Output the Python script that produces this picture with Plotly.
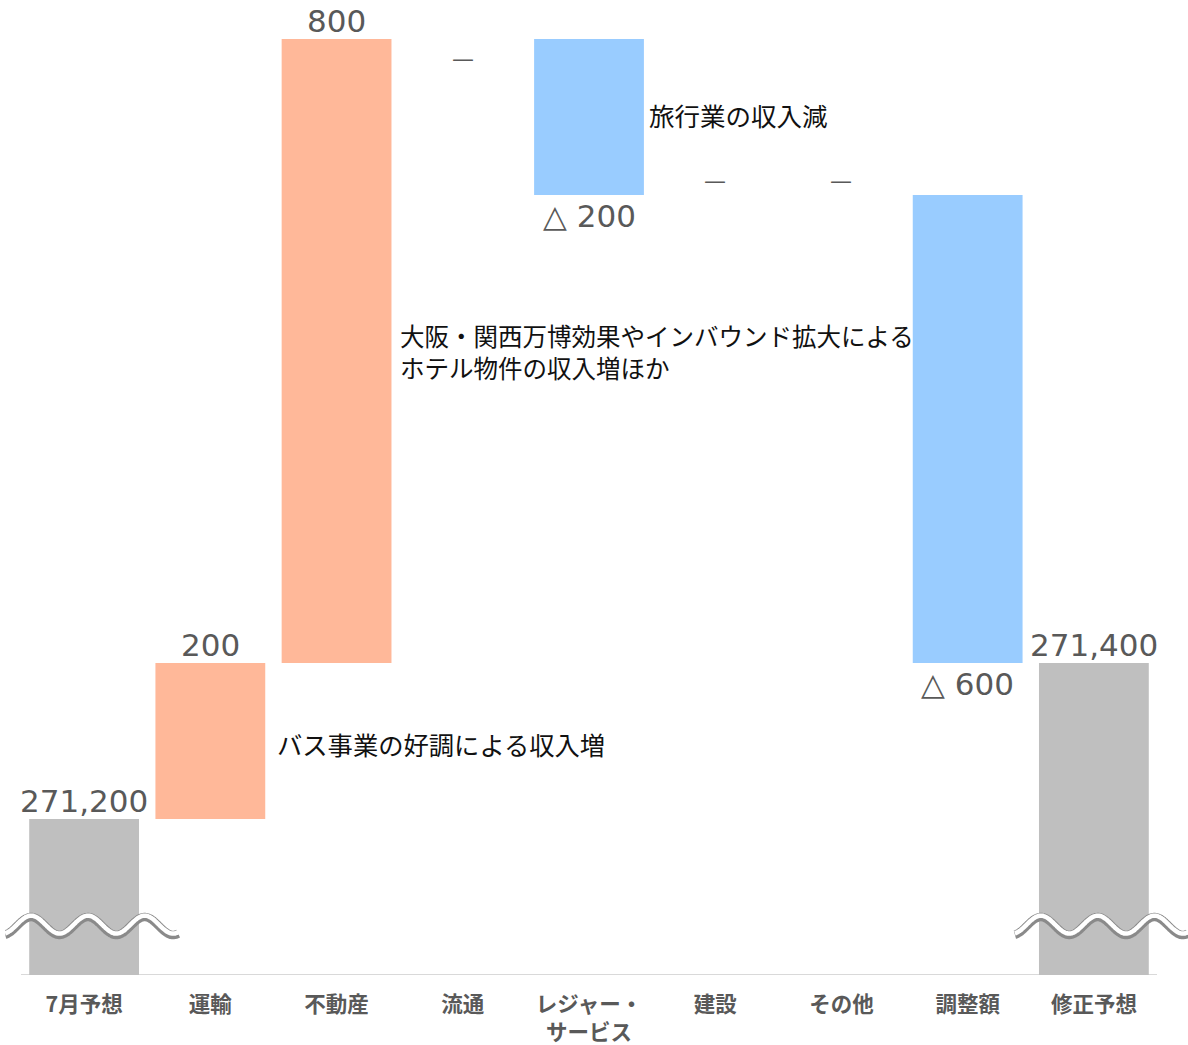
import numpy as np
import plotly.graph_objects as go

# ---- data ----
categories = ["7月予想", "運輸", "不動産", "流通", "レジャー・<br>サービス", "建設", "その他", "調整額", "修正予想"]
start_value = 271200
deltas = [200, 800, 0, -200, 0, 0, -600]
end_value = 271400
notes = {1: "バス事業の好調による収入増",
         2: "大阪・関西万博効果やインバウンド拡大による<br>ホテル物件の収入増ほか",
         4: "旅行業の収入減"}
note_style = {1: dict(size=25.3, xshift=2, yshift=-3),
              2: dict(size=24.5, xshift=-2, yshift=0),
              4: dict(size=25.5, xshift=-5, yshift=3)}

axis_floor = 271000  # broken-axis base
GRAY, UP, DOWN = "#BFBFBF", "#FFB899", "#99CCFF"
LABEL_C = "#595959"
JP = "Noto Sans CJK JP"

# ---- compute waterfall geometry ----
bases, heights, colors, labels, kinds = [], [], [], [], []
bases.append(axis_floor); heights.append(start_value - axis_floor); colors.append(GRAY)
labels.append(f"{start_value:,}"); kinds.append("total")
level = start_value
for d in deltas:
    if d >= 0:
        bases.append(level); heights.append(d); colors.append(UP)
        labels.append(f"{d:,}" if d > 0 else "—"); kinds.append("up" if d > 0 else "zero")
    else:
        bases.append(level + d); heights.append(-d); colors.append(DOWN)
        labels.append(f"△ {-d:,}"); kinds.append("down")
    level += d
bases.append(axis_floor); heights.append(end_value - axis_floor); colors.append(GRAY)
labels.append(f"{end_value:,}"); kinds.append("total")

n = len(categories)
xs = list(range(n))
fig = go.Figure()
fig.add_trace(go.Bar(x=xs, y=heights, base=bases, marker=dict(color=colors, line=dict(width=0)),
                     width=0.87, hoverinfo="skip", showlegend=False))

annotations = []
for i, (b, h, lab, k) in enumerate(zip(bases, heights, labels, kinds)):
    top, bot = b + h, b
    if k in ("total", "up"):
        annotations.append(dict(x=i, y=top, text=lab, yanchor="bottom", showarrow=False,
                                font=dict(family="DejaVu Sans", size=31, color=LABEL_C), yshift=-2))
    elif k == "down":
        annotations.append(dict(x=i, y=bot, text=lab, yanchor="top", showarrow=False,
                                font=dict(family="DejaVu Sans", size=31, color=LABEL_C), yshift=-1))
    else:
        shift = -19 if i == 3 else 15
        annotations.append(dict(x=i, y=top, text=lab, yanchor="middle", showarrow=False,
                                font=dict(family="DejaVu Sans", size=22, color=LABEL_C), yshift=shift))

for i, txt in notes.items():
    mid = bases[i] + heights[i] / 2
    st = note_style[i]
    annotations.append(dict(x=i + 0.5, y=mid, text=txt, xanchor="left", yanchor="middle",
                            align="left", showarrow=False, xshift=st["xshift"], yshift=st["yshift"],
                            font=dict(family=JP, size=st["size"], color="#111111")))

# ---- axis break waves ----
t = np.linspace(-0.626, 0.745, 200)
wave_y = axis_floor + 64 + 11.5 * np.cos(2 * np.pi * (t - 0.03) / 0.45)
for ci in (0, n - 1):
    fig.add_trace(go.Scatter(x=ci + t, y=wave_y - 1.2, mode="lines",
                             line=dict(color="#8a8a8a", width=8.5, shape="spline"),
                             hoverinfo="skip", showlegend=False))
    fig.add_trace(go.Scatter(x=ci + t, y=wave_y + 0.6, mode="lines",
                             line=dict(color="#ffffff", width=4.5, shape="spline"),
                             hoverinfo="skip", showlegend=False))

# baseline (axis line) drawn only under the categories
shapes = [dict(type="line", xref="x", yref="y", x0=-0.5, x1=n - 0.5, y0=axis_floor, y1=axis_floor,
               line=dict(color="#D9D9D9", width=2), layer="below")]

fig.update_layout(
    width=1188, height=1045,
    margin=dict(l=5, r=0, t=0, b=70),
    plot_bgcolor="white", paper_bgcolor="white",
    annotations=annotations,
    shapes=shapes,
    xaxis=dict(range=[-0.6268, n - 0.5 + 0.2456], tickmode="array", tickvals=xs,
               ticktext=[f"<b>{c}</b>" for c in categories],
               tickfont=dict(family=JP, size=21.5, color=LABEL_C),
               showline=False, showgrid=False, zeroline=False, automargin=False,
               ticks="outside", ticklen=10, tickcolor="rgba(0,0,0,0)", fixedrange=True),
    yaxis=dict(range=[axis_floor, 272250], visible=False, showgrid=False, fixedrange=True,
               automargin=False),
)

fig.write_html("out.html")
